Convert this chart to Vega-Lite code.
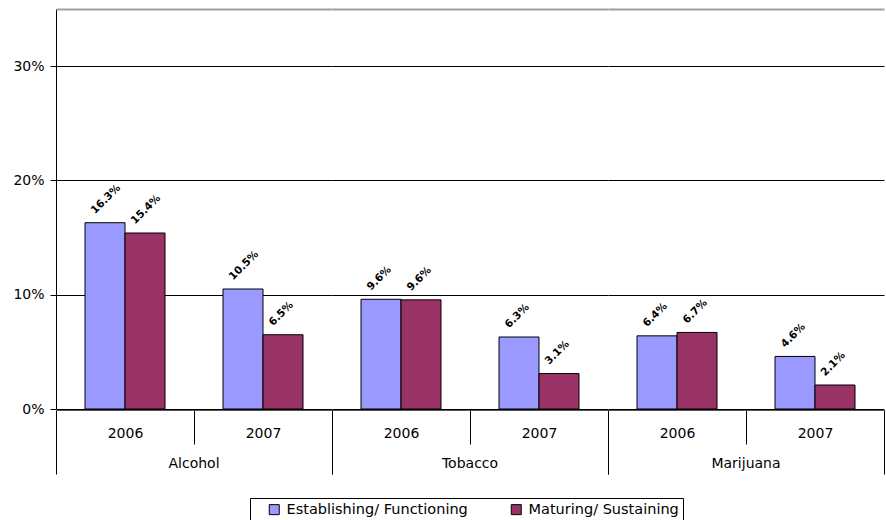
{
  "$schema": "https://vega.github.io/schema/vega-lite/v6.json",
  "padding": {"left": 12, "top": 9, "right": 0, "bottom": 0},
  "background": "white",
  "data": {"values": [
    {"substance": "Alcohol", "year": "2006", "stage": "Establishing/ Functioning", "value": 0.163},
    {"substance": "Alcohol", "year": "2006", "stage": "Maturing/ Sustaining", "value": 0.154},
    {"substance": "Alcohol", "year": "2007", "stage": "Establishing/ Functioning", "value": 0.105},
    {"substance": "Alcohol", "year": "2007", "stage": "Maturing/ Sustaining", "value": 0.065},
    {"substance": "Tobacco", "year": "2006", "stage": "Establishing/ Functioning", "value": 0.096},
    {"substance": "Tobacco", "year": "2006", "stage": "Maturing/ Sustaining", "value": 0.0955},
    {"substance": "Tobacco", "year": "2007", "stage": "Establishing/ Functioning", "value": 0.063},
    {"substance": "Tobacco", "year": "2007", "stage": "Maturing/ Sustaining", "value": 0.031},
    {"substance": "Marijuana", "year": "2006", "stage": "Establishing/ Functioning", "value": 0.064},
    {"substance": "Marijuana", "year": "2006", "stage": "Maturing/ Sustaining", "value": 0.067},
    {"substance": "Marijuana", "year": "2007", "stage": "Establishing/ Functioning", "value": 0.046},
    {"substance": "Marijuana", "year": "2007", "stage": "Maturing/ Sustaining", "value": 0.021}
  ]},
  "facet": {
    "column": {
      "field": "substance", "type": "nominal",
      "sort": ["Alcohol", "Tobacco", "Marijuana"],
      "title": null,
      "header": {"labelOrient": "bottom", "labelFont": "DejaVu Sans", "labelFontSize": 14, "labelColor": "black", "labelPadding": -18}
    }
  },
  "spacing": 0,
  "spec": {
    "width": 276,
    "height": 400,
    "encoding": {
      "x": {
        "field": "year", "type": "nominal", "title": null,
        "scale": {"paddingInner": 0, "paddingOuter": 0},
        "axis": {
          "tickBand": "extent",
          "labelAngle": 0,
          "tickColor": "black",
          "domainColor": "#555555",
          "tickSize": {"condition": {"test": "datum.value != '2006'", "value": 64}, "value": 34},
          "labelPadding": {"condition": {"test": "datum.value == '2006'", "value": -18}, "value": -48},
          "labelFont": "DejaVu Sans", "labelFontSize": 14, "labelColor": "black",
          "grid": false
        }
      },
      "xOffset": {
        "field": "stage", "type": "nominal",
        "sort": ["Establishing/ Functioning", "Maturing/ Sustaining"],
        "scale": {"paddingInner": 0, "paddingOuter": 0.725}
      },
      "y": {
        "field": "value", "type": "quantitative",
        "scale": {"domain": [0, 0.35], "nice": false},
        "axis": {
          "title": null,
          "values": [0, 0.1, 0.2, 0.3, 0.35],
          "format": ".0%",
          "labelExpr": "datum.value > 0.34 ? '' : datum.label",
          "grid": true,
          "gridColor": {"condition": {"test": "datum.value > 0.34", "value": "#a0a0a0"}, "value": "black"},
          "gridWidth": {"condition": {"test": "datum.value > 0.34", "value": 2}, "value": 1},
          "tickOpacity": {"condition": {"test": "datum.value > 0.34", "value": 0}, "value": 1},
          "tickColor": "black", "tickSize": 6,
          "domainColor": "black",
          "labelPadding": 6,
          "labelFont": "DejaVu Sans", "labelFontSize": 14, "labelColor": "black"
        }
      }
    },
    "layer": [
      {
        "mark": {"type": "bar", "stroke": "black", "strokeWidth": 1},
        "encoding": {
          "color": {
            "field": "stage", "type": "nominal",
            "sort": ["Establishing/ Functioning", "Maturing/ Sustaining"],
            "scale": {"domain": ["Establishing/ Functioning", "Maturing/ Sustaining"], "range": ["#9999FF", "#993366"]},
            "legend": {
              "title": null, "orient": "none", "direction": "horizontal",
              "legendX": 194, "legendY": 489,
              "labelExpr": "datum.label == 'Maturing/ Sustaining' ? datum.label + '   ' : datum.label"
            }
          }
        }
      },
      {
        "mark": {"type": "text", "angle": -45, "align": "left", "baseline": "middle", "dx": -1, "dy": -16, "font": "DejaVu Sans", "fontWeight": "bold", "fontSize": 10.5, "color": "black"},
        "encoding": {"text": {"field": "value", "type": "quantitative", "format": ".1%"}}
      }
    ]
  },
  "config": {
    "view": {"stroke": null},
    "legend": {
      "strokeColor": "black", "padding": 4,
      "symbolType": "square", "symbolSize": 100, "symbolOffset": 13,
      "symbolStrokeColor": "black", "symbolStrokeWidth": 1,
      "labelFont": "DejaVu Sans", "labelFontSize": 14.5, "labelColor": "black",
      "columnPadding": 28, "labelLimit": 300, "labelOffset": 5
    }
  }
}
